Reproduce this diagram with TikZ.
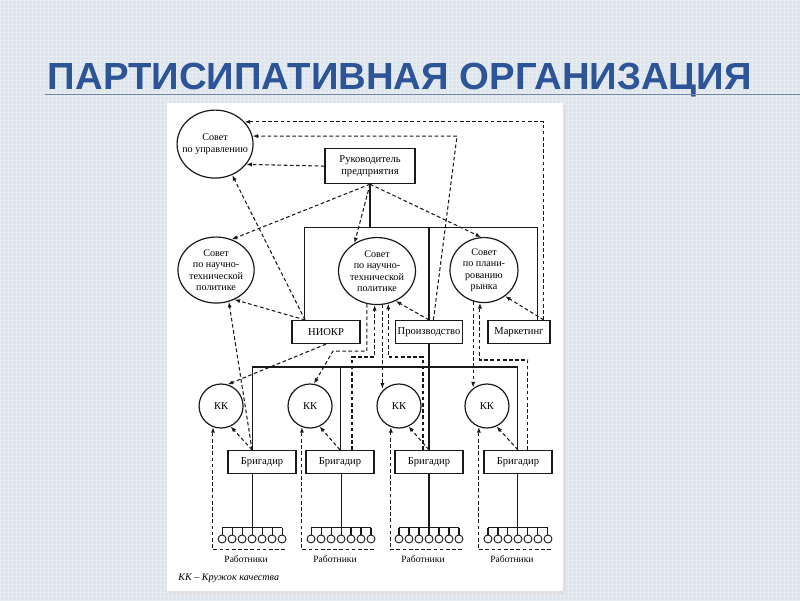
\documentclass[tikz,border=0pt]{standalone}
\usepackage{fontspec}
\setmainfont{Liberation Serif}
\newfontfamily\titlefont{Liberation Sans}
\usepackage{xcolor}
\usepackage{graphicx}
\usetikzlibrary{shapes.geometric, arrows.meta, positioning}
\definecolor{SlideBg}{RGB}{221,228,236}
\definecolor{SlideGrid}{RGB}{231,236,242}
\definecolor{TitleBlue}{RGB}{44,84,150}
\definecolor{RuleBlue}{RGB}{118,138,168}
\definecolor{InkGray}{RGB}{25,25,25}
\newlength{\pxu}
\setlength{\pxu}{0.025cm}
\newcommand{\circfont}{\fontsize{7.2}{8.1}\selectfont}
\newcommand{\boxfont}{\fontsize{7.5}{8.6}\selectfont}
\newcommand{\grpfont}{\fontsize{6.8}{7.5}\selectfont}
\newcommand{\legendfont}{\fontsize{7.2}{8}\selectfont\itshape}
\tikzset{
  sovet/.style={ellipse, draw=InkGray, line width=0.85pt, inner sep=0pt, align=center, font=\circfont},
  unitbox/.style={rectangle, draw=InkGray, line width=0.85pt, minimum height=23\pxu, inner sep=1pt,
    align=center, font=\boxfont},
  kkcircle/.style={circle, draw=InkGray, line width=0.85pt, minimum size=44\pxu, inner sep=0pt, font=\boxfont},
  worker/.style={circle, draw=InkGray, line width=0.65pt, minimum size=8\pxu, inner sep=0pt},
  solidlink/.style={draw=InkGray, line width=0.75pt},
  dashlink/.style={draw=InkGray, line width=0.75pt, dash pattern=on 2.6pt off 1.8pt},
  dasharrow/.style={dashlink, -{Latex[length=4pt,width=3pt]}},
  grplabel/.style={font=\grpfont, inner sep=0pt},
}

\begin{document}
\begin{tikzpicture}[x=\pxu, y=-\pxu]
  % slide background
  \fill[SlideBg] (0,0) rectangle (800,600);
  \draw[SlideGrid, line width=0.2pt, step=4\pxu] (0,0) grid (800,600);
  \useasboundingbox (0,0) rectangle (800,600);
  \node[anchor=base, inner sep=0pt, text=TitleBlue] (title) at (400,89)
    {\resizebox{17.6cm}{0.66cm}{\titlefont\bfseries ПАРТИСИПАТИВНАЯ ОРГАНИЗАЦИЯ}};
  \draw[RuleBlue, line width=0.8pt] (45,94) -- (800,94);
  \fill[black!12] (169,105) rectangle (566,594);
  \fill[white] (167,103) rectangle (563,591);

  % councils and head
  \node[sovet, inner xsep=-5pt, minimum width=76\pxu, minimum height=68\pxu] (upr) at (215,144)
    {Совет\\по управлению};
  \node[unitbox, minimum width=90\pxu, minimum height=35\pxu] (ruk) at (370,166) {Руководитель\\предприятия};
  \node[sovet, minimum width=75\pxu, minimum height=66\pxu] (ntp1) at (216,270)
    {Совет\\по научно-\\технической\\политике};
  \node[sovet, minimum width=77\pxu, minimum height=67\pxu] (ntp2) at (377,271)
    {Совет\\по научно-\\технической\\политике};
  \node[sovet, minimum width=68\pxu, minimum height=65\pxu] (plan) at (484,270)
    {Совет\\по плани-\\рованию\\рынка};

  % departments
  \node[unitbox, minimum width=68\pxu] (niokr) at (326,332) {НИОКР};
  \node[unitbox, minimum width=67\pxu] (proizv) at (429,332) {Производство};
  \node[unitbox, minimum width=62\pxu] (market) at (519,332) {Маркетинг};

  % quality circles and foremen
  \foreach \i/\k/\b in {1/221/262, 2/310/340, 3/399/429, 4/487/518} {
    \node[kkcircle] (kk\i) at (\k,406) {КК};
    \node[unitbox, minimum width=68\pxu] (brig\i) at (\b,462) {Бригадир};
  }

  \coordinate (busTop) at (304,227);
  \coordinate (busTopR) at (538,227);
  \coordinate (busMid) at (252,367);
  \coordinate (busMidR) at (518,367);
  \coordinate (bendUpr) at (457,136);
  \coordinate (bendKK2) at (333,351);
  \coordinate (bendB2) at (352,357);
  \coordinate (bendB3) at (423,357);
  \coordinate (bendB4) at (528,360);

  % line of command
  \draw[solidlink] (ruk.south) -- (ruk.south |- busTop);
  \draw[solidlink] (niokr.north -| busTop) -- (busTop) -- (busTopR) -- (market.north -| busTopR);
  \draw[solidlink] (proizv.north) -- (proizv.north |- busTop);
  \draw[solidlink] (proizv.south) -- (proizv.south |- busMid);
  \draw[solidlink] (brig1.north -| busMid) -- (busMid) -- (busMidR) -- (brig4.north -| busMidR);
  \draw[solidlink] (brig2.north) -- (brig2.north |- busMid);
  \draw[solidlink] (brig3.north) -- (brig3.north |- busMid);

  % participation links
  \draw[dasharrow] (market.26) |- (upr.37);
  \draw[dasharrow] (proizv.70) -- (bendUpr) -- (upr.12);
  \draw[dasharrow] (ruk.west) -- (upr.-33);
  \draw[dasharrow] (niokr.150) -- (upr.-61);
  \draw[dasharrow] (niokr.150) -- (ntp1.-58);
  \draw[dasharrow] (ruk.south) -- (ntp1.63);
  \draw[dasharrow] (ruk.south) -- (ntp2.129);
  \draw[dasharrow] (ruk.south) -- (plan.95);
  \draw[dasharrow] (proizv.north) -- (ntp2.-58);
  \draw[dasharrow] (market.26) -- (plan.-51);
  \draw[dasharrow] (niokr.south) -- (kk1.73);
  \draw[dasharrow] (ntp2.-107) |- (bendKK2) -- (kk2.80);
  \draw[dasharrow] (brig2.north -| bendB2) -- (bendB2) -| (ntp2.-94);
  \draw[dasharrow] (ntp2.-81) -- (ntp2.-81 |- kk3.130);
  \draw[dasharrow] (brig3.north -| bendB3) -- (bendB3) -| (ntp2.-71);
  \draw[dasharrow] (plan.-109) -- (plan.-109 |- kk4.125);
  \draw[dasharrow] (brig4.north -| bendB4) -- (bendB4) -| (plan.-97);
  \draw[dasharrow] (brig1.north -| busMid) -- (ntp1.-68);
  \draw[dasharrow] (brig1.north -| busMid) -- (kk1.-65);
  \foreach \i in {2,3,4}
    \draw[dasharrow] (brig\i.north) -- (kk\i.-65);

  % workers
  \foreach \i/\g in {1/252, 2/341, 3/429, 4/518} {
    \coordinate (comb\i) at (\g,528);
    \draw[solidlink] (brig\i.south -| comb\i) -- (comb\i);
    \draw[solidlink] ([xshift=-30\pxu]comb\i) -- ([xshift=30\pxu]comb\i);
    \foreach \w [count=\j] in {-3,...,3} {
      \node[worker] (w\i\j) at (\g+10*\w,539) {};
      \draw[solidlink] (w\i\j.north) -- (w\i\j.north |- comb\i);
    }
    \coordinate (grp\i) at (\g+33,550);
    \draw[dasharrow] (grp\i) -| (kk\i.-111);
    \node[grplabel] (lab\i) at (\g-6,559) {Работники};
  }
  \node[grplabel, anchor=west, font=\legendfont] (legend) at (178,578) {КК -- Кружок качества};
\end{tikzpicture}
\end{document}
